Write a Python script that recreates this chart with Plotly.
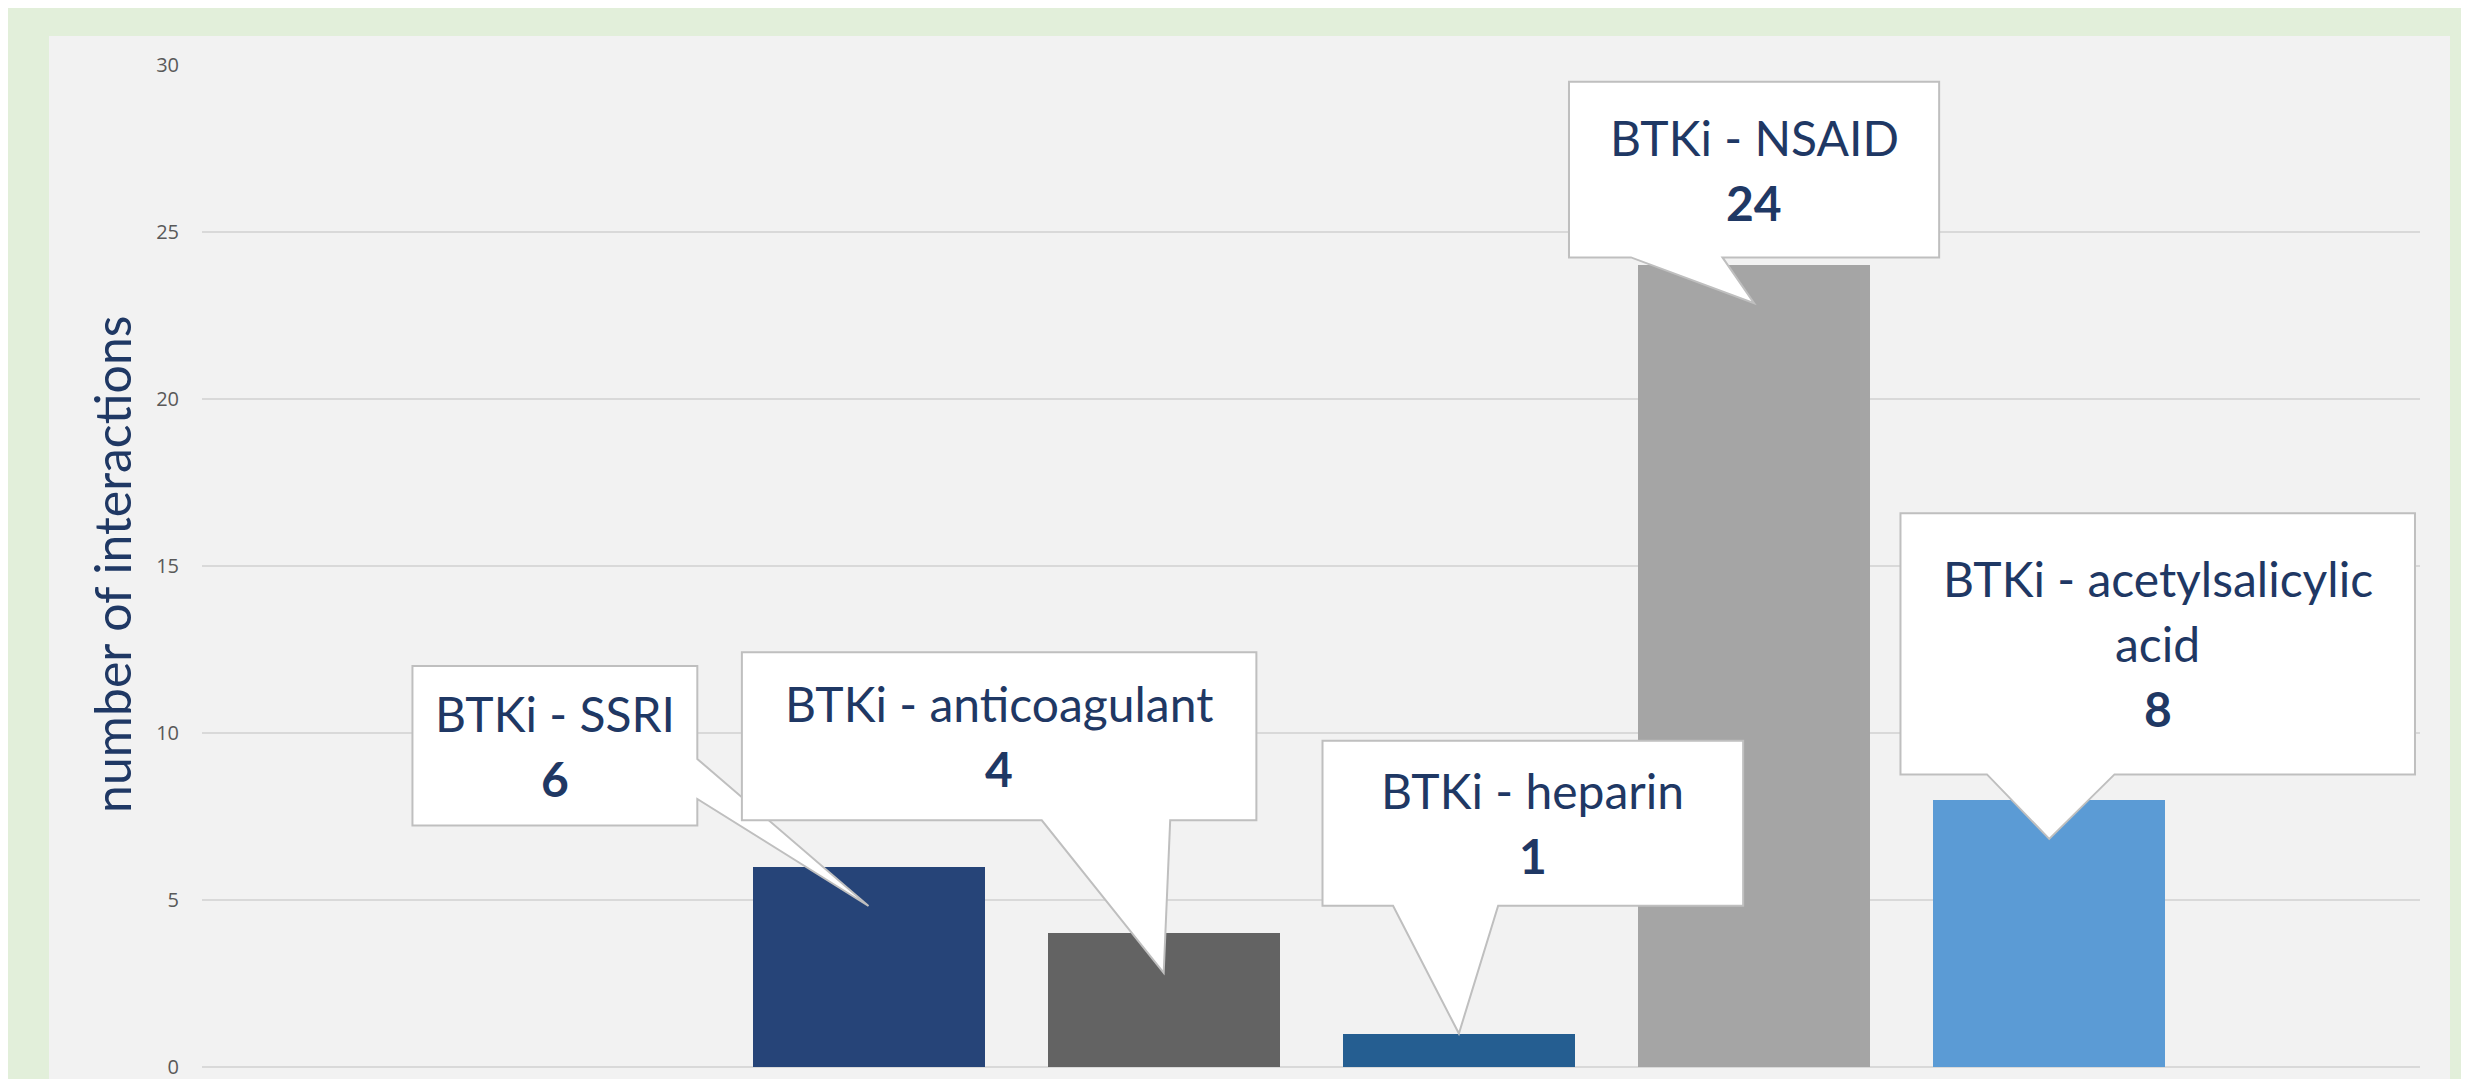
import plotly.graph_objects as go

# ---------------- data ----------------
categories = ["BTKi - SSRI", "BTKi - anticoagulant", "BTKi - heparin",
              "BTKi - NSAID", "BTKi - acetylsalicylic acid"]
values = [6, 4, 1, 24, 8]
bar_colors = ["#264478", "#636363", "#255E91", "#A5A5A5", "#5B9BD5"]
callout_labels = ["BTKi - SSRI", "BTKi - anticoagulant", "BTKi - heparin",
                  "BTKi - NSAID", "BTKi - acetylsalicylic<br>acid"]
y_ticks = [0, 5, 10, 15, 20, 25, 30]
y_title = "number of interactions"

# ---------------- layout constants ----------------
OFF = 8                      # default page (body) margin of the html page
W, H = 2469 - OFF, 1079 - OFF
ML, MR, MT, MB = 202 - OFF, 49, 65 - OFF, 12
PW, PH = W - ML - MR, H - MT - MB
NAVY = "#1F3864"
X_RANGE = [-2.258, 5.256]
Y_RANGE = [-0.0005, 30]

# callout boxes (x0, x1 in category units; y0, y1 in value units),
# pointer side / base, and how deep the pointer goes into the bar
callouts = [
    dict(box=(-1.545, -0.580, 7.231, 12.006), side="right", base=(9.222, 8.024), depth=1.18),
    dict(box=(-0.429, 1.314, 7.386, 12.416), side="bottom", base=(0.587, 1.022), depth=1.18),
    dict(box=(1.538, 2.963, 4.829, 9.769), side="bottom", base=(1.777, 2.133), depth=0.0),
    dict(box=(2.373, 3.627, 24.24, 29.50), side="bottom", base=(2.583, 2.893), depth=1.13),
    dict(box=(3.496, 5.239, 8.76, 16.58), side="bottom", base=(3.789, 4.221), depth=1.17),
]
LINE_STEP = 65 / (PH / (Y_RANGE[1] - Y_RANGE[0]))  # 65 px line spacing in value units
FONT_SIZE = 48

x_pos = list(range(len(categories)))

fig = go.Figure()
fig.add_trace(go.Bar(
    x=x_pos, y=values, width=0.786,
    marker=dict(color=bar_colors, line=dict(width=0)),
    text=categories, hoverinfo="text+y", textposition="none",
    showlegend=False,
))

shapes = []
annotations = []


def px_to_paper_x(px):
    return (px - OFF - ML) / PW


def px_to_paper_y(py):
    return (H - MB - (py - OFF)) / PH


# grey panel behind chart
shapes.append(dict(type="rect", xref="paper", yref="paper",
                   x0=px_to_paper_x(49), x1=px_to_paper_x(2450),
                   y0=px_to_paper_y(1200), y1=px_to_paper_y(36),
                   fillcolor="#F2F2F2", line=dict(width=0), layer="below"))

for i, c in enumerate(callouts):
    x0, x1, y0, y1 = c["box"]
    tx, ty = x_pos[i], values[i] - c["depth"]
    if c["side"] == "right":
        b_hi, b_lo = c["base"]
        pts = [(x0, y1), (x1, y1), (x1, b_hi), (tx, ty), (x1, b_lo), (x1, y0), (x0, y0)]
    else:
        b_l, b_r = c["base"]
        pts = [(x0, y1), (x1, y1), (x1, y0), (b_r, y0), (tx, ty), (b_l, y0), (x0, y0)]
    path = "M " + " L ".join(f"{px},{py}" for px, py in pts) + " Z"
    shapes.append(dict(type="path", xref="x", yref="y", path=path,
                       fillcolor="white", line=dict(color="#BFBFBF", width=2),
                       layer="above"))
    lines = callout_labels[i].split("<br>") + [f"<b>{values[i]}</b>"]
    cx = (x0 + x1) / 2
    cy = (y0 + y1) / 2
    n = len(lines)
    for j, t in enumerate(lines):
        ly = cy + ((n - 1) / 2 - j) * LINE_STEP
        annotations.append(dict(x=cx, y=ly, xref="x", yref="y", text=t,
                                showarrow=False, xanchor="center", yanchor="middle",
                                font=dict(family="Lato", size=FONT_SIZE, color=NAVY)))

annotations.append(dict(x=px_to_paper_x(112), y=px_to_paper_y(565), xref="paper", yref="paper",
                        text=y_title, textangle=-90, showarrow=False,
                        xanchor="center", yanchor="middle",
                        font=dict(family="Lato", size=50, color=NAVY)))

fig.update_layout(
    width=W, height=H,
    margin=dict(l=ML, r=MR, t=MT, b=MB, pad=0, autoexpand=False),
    paper_bgcolor="#E2EFDA",
    plot_bgcolor="#F2F2F2",
    shapes=shapes,
    annotations=annotations,
    bargap=0,
    xaxis=dict(range=X_RANGE, showticklabels=False, showgrid=False,
               zeroline=False, showline=False, ticks="", automargin=False),
    yaxis=dict(range=Y_RANGE, tickvals=y_ticks, showgrid=True,
               gridcolor="#D9D9D9", gridwidth=2,
               zeroline=True, zerolinecolor="#D9D9D9", zerolinewidth=2,
               showline=False, ticks="", ticklabelstandoff=22,
               ticklabeloverflow="allow", automargin=False,
               tickfont=dict(family="Open Sans", size=20, color="#595959")),
)

fig.write_html("out.html")
